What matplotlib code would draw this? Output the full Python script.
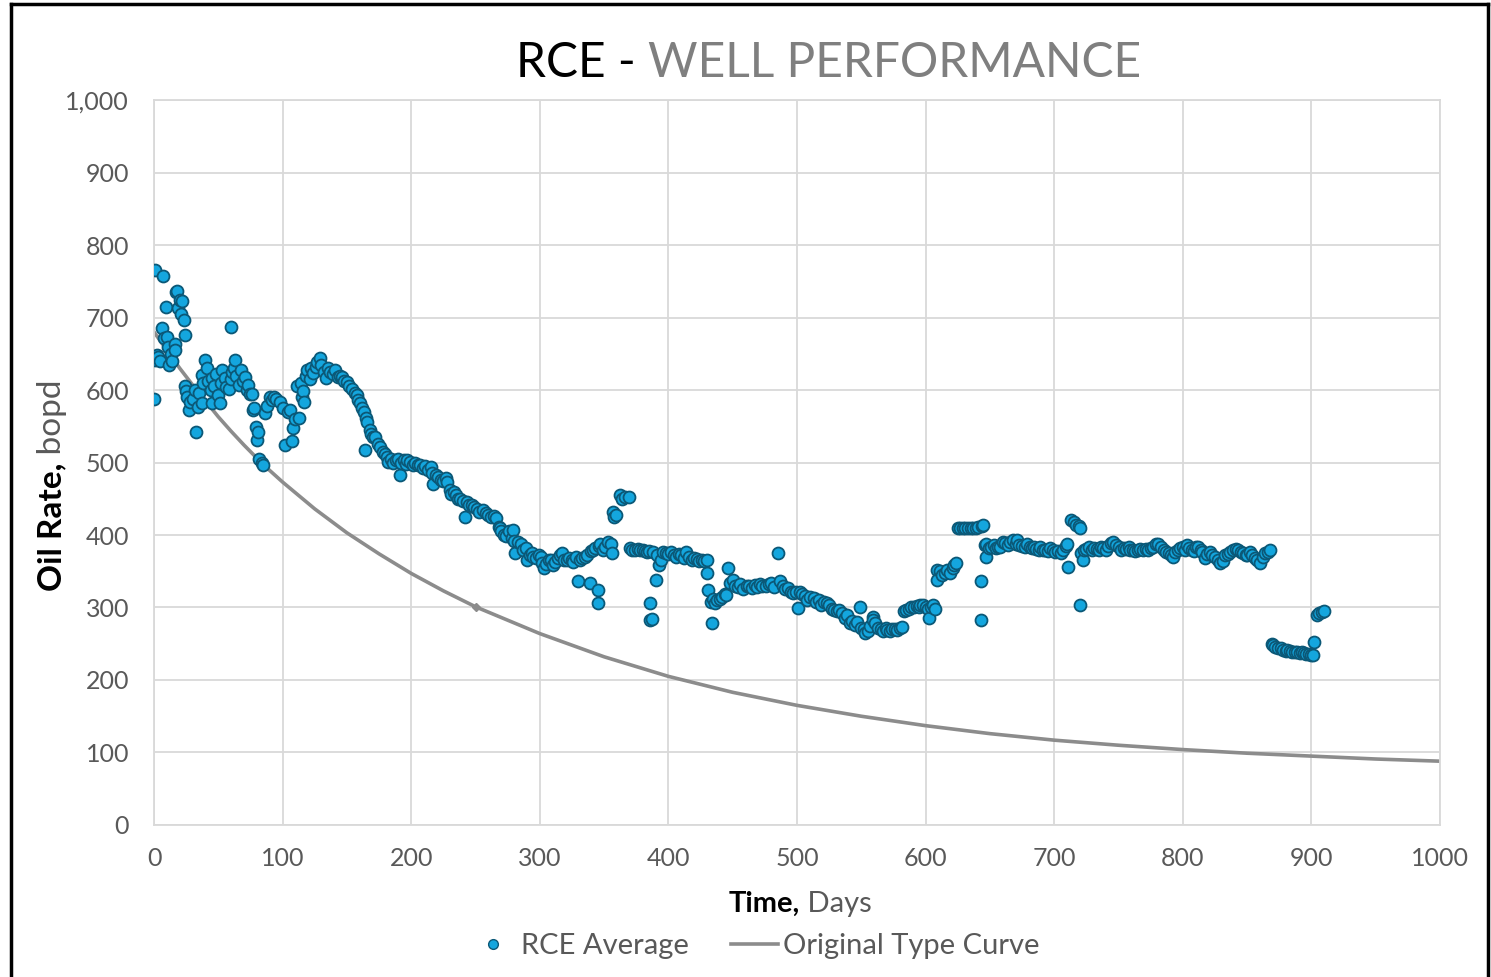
import matplotlib
matplotlib.use("Agg")
import matplotlib.pyplot as plt
from matplotlib.lines import Line2D
from matplotlib.ticker import FuncFormatter, MultipleLocator

# RCE averaged oil rate (days on production, bopd)
rce_days = [
    0, 0.8, 1, 2, 3, 5, 6, 7, 8, 9, 10, 11, 12, 13, 14, 16, 16, 17, 18, 19,
    20, 21, 22, 23, 24, 24, 25, 26, 27, 28, 30, 32, 33, 34, 35, 37, 37, 38, 40, 41,
    42, 44, 45, 45, 47, 48, 50, 51, 52, 53, 55, 56, 58, 60, 60, 61, 62, 63, 64, 66,
    68, 69, 71, 72, 73, 75, 76, 77, 78, 79, 80, 81, 82, 84, 85, 86, 88, 90, 92, 93,
    95, 98, 100,
    102, 104, 106, 107, 108, 110, 111, 113, 114, 115, 116, 117, 118, 119, 121, 122, 124, 126, 127, 129,
    130, 132, 134, 135, 137, 139, 141, 143, 145, 146, 148, 150, 152, 154, 156, 158, 159, 160, 162, 163,
    165, 166, 168, 169, 170, 172, 164, 174, 176, 178, 180, 181, 182, 184, 186, 188, 190, 191, 192, 194,
    196, 197, 199,
    201, 203, 205, 207, 209, 211, 213, 215, 216, 217, 219, 221, 223, 225, 227, 228, 230, 231, 233, 235,
    236, 238, 240, 242, 243, 245, 247, 249, 251, 253, 256, 258, 260, 262, 264, 266, 268, 269, 270, 272,
    274, 276, 278, 279, 280, 281, 283, 285, 287, 289, 290, 292, 294, 295, 297, 299, 301,
    302, 303, 305, 307, 309, 310, 312, 314, 316, 317, 319, 321, 323, 325, 326, 328, 330, 331, 333, 335,
    337, 339, 340, 341, 343, 345, 345, 346, 347, 349, 351, 353, 355, 356, 357, 358, 359, 362, 364, 366,
    369, 370, 372, 374, 376, 378, 380, 382, 383, 385, 386, 386, 387, 388, 390, 391, 393, 394, 396,
    398, 400, 402, 404, 406, 408, 410, 412, 414, 416, 418, 420, 422, 424, 426, 428, 430, 430, 431, 433,
    434, 435, 436, 438, 440, 442, 444, 445, 446, 448, 450, 452, 454, 456, 458, 461, 463, 465, 467, 469,
    471, 473, 476, 478, 480, 482, 485, 487, 489, 491, 493, 495, 497, 499,
    501, 502, 504, 506, 508, 510, 513, 515, 517, 519, 521, 523, 525, 527, 529, 531, 533, 535, 537, 539,
    541, 543, 545, 547, 549, 550, 552, 553, 555, 557, 559, 559, 561, 563, 565, 567, 569, 570, 572, 574,
    576, 578, 580, 582, 583, 585, 587, 589, 591, 593, 595, 596, 598, 600,
    602, 603, 604, 606, 607, 609, 609, 611, 613, 615, 617, 619, 621, 622, 624, 625, 627, 629, 631, 633,
    635, 637, 639, 641, 643, 643, 644, 645, 646, 647, 647, 649, 651, 653, 655, 656, 658, 660, 662, 664,
    666, 668, 670, 671, 673, 675, 677, 679, 681, 683, 684, 686, 688, 689, 691, 693, 695, 697, 699,
    701, 703, 705, 707, 709, 710, 711, 713, 715, 717, 719, 720, 720, 721, 722, 723, 725, 727, 729, 731,
    733, 735, 736, 738, 740, 742, 744, 746, 748, 750, 752, 754, 756, 758, 759, 761, 763, 765, 767, 769,
    771, 773, 775, 777, 779, 781, 783, 785, 787, 789, 791, 792, 794, 796, 798, 800, 802, 803, 805, 807,
    809, 810, 812, 814, 815, 817, 819, 821, 823, 825, 827, 829, 831, 833, 835, 837, 839, 841, 843, 845,
    847, 849, 850, 852, 854, 856, 858, 860, 862, 864, 866, 868, 869, 870, 872, 874, 876, 878, 880, 881,
    883, 885, 887, 889, 891, 893, 894, 896, 898, 900, 901, 902, 904, 906, 908, 910,
]
rce_rate = [
    588, 766, 641, 648, 646, 640, 685, 757, 672, 715, 673, 660, 634, 650, 640, 664, 655, 735, 736, 713,
    724, 705, 723, 697, 676, 605, 598, 590, 572, 584, 588, 600, 542, 577, 596, 621, 582, 610, 641, 630,
    612, 600, 616, 582, 605, 622, 593, 582, 610, 628, 616, 604, 602, 687, 615, 625, 630, 641, 620, 607,
    628, 612, 618, 600, 607, 595, 595, 572, 575, 549, 531, 542, 505, 500, 497, 568, 578, 591, 586, 591,
    588, 584, 575,
    524, 570, 572, 530, 547, 560, 605, 561, 609, 590, 598, 584, 620, 628, 615, 630, 623, 632, 638, 644,
    635, 625, 616, 630, 625, 622, 628, 618, 620, 618, 612, 611, 606, 602, 596, 593, 586, 582, 575, 570,
    562, 556, 545, 540, 535, 535, 517, 525, 522, 515, 512, 508, 501, 505, 500, 503, 505, 483, 500, 503,
    498, 503, 501,
    497, 499, 496, 497, 492, 495, 490, 494, 485, 471, 483, 480, 476, 474, 478, 473, 462, 457, 460, 455,
    450, 450, 447, 425, 445, 442, 441, 438, 436, 432, 434, 430, 428, 425, 426, 423, 411, 409, 405, 400,
    398, 405, 396, 407, 392, 375, 390, 388, 379, 382, 366, 372, 375, 370, 368, 372, 370,
    362, 354, 360, 365, 366, 359, 363, 368, 372, 375, 366, 365, 368, 366, 363, 369, 336, 366, 368, 370,
    372, 334, 378, 379, 382, 324, 306, 385, 388, 380, 384, 390, 388, 375, 432, 425, 428, 455, 450, 452,
    453, 382, 379, 380, 381, 380, 379, 378, 377, 378, 306, 283, 284, 376, 338, 372, 359, 365, 377,
    375, 374, 376, 373, 370, 374, 372, 368, 377, 370, 366, 368, 367, 364, 366, 364, 366, 347, 324, 308,
    278, 312, 306, 310, 312, 315, 318, 317, 354, 334, 338, 330, 328, 332, 326, 329, 330, 327, 331, 328,
    333, 330, 329, 332, 334, 328, 375, 336, 330, 325, 327, 322, 320, 322,
    299, 322, 318, 316, 311, 314, 313, 308, 310, 304, 307, 306, 303, 298, 296, 295, 297, 292, 285, 290,
    278, 281, 276, 280, 301, 272, 270, 265, 268, 274, 287, 283, 278, 272, 270, 268, 272, 269, 267, 270,
    271, 269, 272, 273, 295, 297, 298, 300, 301, 302, 301, 303, 304, 300,
    298, 285, 300, 303, 298, 352, 338, 350, 345, 348, 352, 347, 355, 358, 361, 409, 410, 409, 410, 409,
    410, 410, 409, 411, 336, 283, 413, 414, 386, 370, 388, 382, 384, 386, 382, 384, 384, 391, 389, 386,
    390, 393, 388, 393, 386, 385, 384, 388, 384, 382, 384, 381, 380, 384, 380, 379, 378, 382, 379,
    377, 378, 375, 380, 385, 388, 356, 421, 418, 414, 412, 409, 303, 375, 366, 380, 381, 383, 380, 382,
    381, 379, 384, 382, 380, 385, 389, 391, 386, 384, 380, 382, 381, 384, 379, 380, 378, 380, 381, 379,
    381, 380, 382, 384, 387, 388, 383, 380, 377, 375, 373, 370, 377, 380, 382, 384, 380, 386, 382, 379,
    378, 384, 384, 380, 376, 368, 374, 377, 373, 369, 366, 361, 364, 372, 374, 377, 379, 381, 379, 377,
    375, 372, 372, 376, 373, 368, 366, 361, 370, 375, 377, 379, 250, 248, 246, 244, 244, 242, 240, 241,
    240, 239, 238, 238, 237, 238, 237, 236, 236, 235, 234, 253, 290, 292, 294, 295,
]

# Original type curve (days, bopd)
type_days = [0, 10, 20, 30, 40, 50, 60, 70, 80, 90, 100, 125, 150, 175, 200, 225, 250,
             300, 350, 400, 450, 500, 550, 600, 650, 700, 750, 800, 850, 900, 950, 1000]
type_rate = [680, 655, 630, 607, 585, 563, 543, 524, 506, 489, 473, 436, 403, 374, 347, 323, 301,
             264, 232, 205, 183, 165, 150, 137, 126, 117, 110, 104, 99, 95, 91, 88]
type_marker_day = 250
type_marker_rate = 301

FACE = "#14A6DE"
EDGE = "#0B5877"
CURVE = "#8C8C8C"
TICK_GREY = "#595959"
GRID = "#D9D9D9"
FONT = ["Lato", "DejaVu Sans"]

plt.rcParams["font.family"] = FONT

fig = plt.figure(figsize=(14.91, 9.77), dpi=100)
ax = fig.add_axes([0.1033, 0.1556, 0.8625, 0.742])

ax.plot(type_days, type_rate, color=CURVE, linewidth=2.6, zorder=2)
ax.plot([type_marker_day], [type_marker_rate], marker="D", markersize=4,
        color=CURVE, zorder=2)
ax.scatter(rce_days, rce_rate, s=74, color=FACE, edgecolor=EDGE,
           linewidth=1.3, zorder=3)

ax.set_xlim(0, 1000)
ax.set_ylim(0, 1000)
ax.xaxis.set_major_locator(MultipleLocator(100))
ax.yaxis.set_major_locator(MultipleLocator(100))
ax.yaxis.set_major_formatter(FuncFormatter(lambda v, _: f"{int(v):,}"))
ax.grid(True, color=GRID, linewidth=1.3)
ax.set_axisbelow(True)
for sp in ax.spines.values():
    sp.set_color(GRID)
    sp.set_linewidth(1.3)
ax.tick_params(length=0, labelsize=18, colors=TICK_GREY)
ax.tick_params(axis="y", pad=18)
ax.tick_params(axis="x", pad=16)

# title: black prefix, grey remainder
fig.text(0.4346, 0.921, "RCE - ", ha="right", va="baseline", fontsize=34.5,
         color="black")
fig.text(0.4346, 0.921, "WELL PERFORMANCE", ha="left", va="baseline", fontsize=34.5,
         color="#7F7F7F")

# axis labels with bold lead word
fig.text(0.5365, 0.067, "Time,", ha="right", va="baseline", fontsize=21,
         fontweight="bold", color="black")
fig.text(0.5365, 0.067, " Days", ha="left", va="baseline", fontsize=21,
         color=TICK_GREY)
fig.text(0.041, 0.526, "Oil Rate,", rotation=90, rotation_mode="anchor",
         ha="right", va="baseline", fontsize=24, fontweight="bold", color="black")
fig.text(0.041, 0.526, " bopd", rotation=90, rotation_mode="anchor",
         ha="left", va="baseline", fontsize=24, color=TICK_GREY)

handles = [
    Line2D([], [], linestyle="none", marker="o", markersize=7,
           markerfacecolor=FACE, markeredgecolor=EDGE, markeredgewidth=1.0),
    Line2D([], [], color=CURVE, linewidth=2.6),
]
fig.legend(handles, ["RCE Average", "Original Type Curve"], loc="center",
           bbox_to_anchor=(0.506, 0.032), ncol=2, frameon=False, fontsize=21,
           handlelength=1.6, handletextpad=0.17, columnspacing=1.45,
           labelcolor=TICK_GREY)

# outer frame
for xs, ys in [([0.0075, 0.0075], [0, 0.996]), ([0.0075, 0.998], [0.996, 0.996]),
               ([0.998, 0.998], [0, 0.996])]:
    fig.add_artist(Line2D(xs, ys, color="black", linewidth=2.5,
                          transform=fig.transFigure))

fig.savefig("out.png", dpi=100)
